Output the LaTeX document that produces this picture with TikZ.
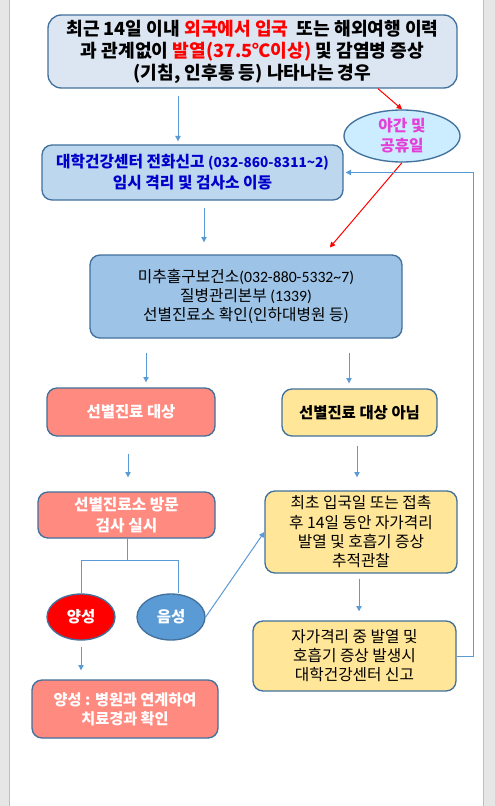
\documentclass[tikz,border=0pt]{standalone}
\usepackage{fontspec}
\setmainfont{Noto Sans CJK KR}
\newfontfamily\lat{Carlito}
\usetikzlibrary{arrows.meta,shapes.geometric}
\definecolor{bord}{HTML}{41719C}
\definecolor{arrc}{HTML}{5B9BD5}
\definecolor{topf}{HTML}{DCE6F2}
\definecolor{btwof}{HTML}{BDD7EE}
\definecolor{bthreef}{HTML}{9DC3E6}
\definecolor{nightf}{HTML}{CCECFF}
\definecolor{salm}{HTML}{FF8A80}
\definecolor{yel}{HTML}{FFE699}
\definecolor{negf}{HTML}{5B9BD5}
\definecolor{txtblue}{HTML}{0000CC}
\definecolor{mag}{HTML}{E43FD8}
\definecolor{grayside}{HTML}{E6E6E6}
\definecolor{grayline}{HTML}{BFBFBF}
\begin{document}
\begin{tikzpicture}[x=0.75pt,y=-0.75pt,
  rbox/.style={draw=bord, line width=1pt, rounded corners=7.5pt, align=center, inner sep=0pt},
  ell/.style={ellipse, draw=bord, line width=1pt, align=center, inner sep=0pt},
  arr/.style={draw=arrc, line width=0.75pt, -{Triangle[length=4pt,width=4pt]}},
  ln/.style={draw=arrc, line width=0.75pt},
  redarr/.style={draw=red, line width=0.75pt, -{Triangle[length=4pt,width=4pt]}},
  txt/.style={font=\fontsize{11.6}{14.5}\selectfont},
  btxt/.style={font=\fontsize{11.6}{14.5}\selectfont\bfseries},
]
\useasboundingbox (0,0) rectangle (495,806);
\fill[white] (0,0) rectangle (495,806);
\fill[grayside] (0,0) rectangle (9,806);
\draw[grayline, line width=0.75pt] (9.5,0) -- (9.5,806);
\fill[grayside] (483,0) rectangle (495,806);
\draw[grayline, line width=0.75pt] (483.5,0) -- (483.5,806);

% nodes
\node[rbox, fill=topf, rounded corners=10pt, minimum width=306.75pt, minimum height=54.75pt,
  font=\fontsize{13.6}{16.5}\selectfont\bfseries] (top) at (252.5,51.5)
  {최근 14일 이내 \textcolor{red}{외국에서 입국}~ 또는 해외여행 이력\\과 관계없이 \textcolor{red}{발열(37.5℃이상)} 및 감염병 증상\\(기침, 인후통 등) 나타나는 경우};
\node[ell, fill=nightf, minimum width=87pt, minimum height=39pt, text=mag,
  font=\fontsize{11.8}{15}\selectfont\bfseries] (night) at (402,136) {야간 및\\공휴일};
\node[rbox, fill=btwof, minimum width=225.75pt, minimum height=41.25pt, text=txtblue,
  font=\fontsize{11.8}{15.75}\selectfont\bfseries] (box2) at (192.5,172.5)
  {대학건강센터 전화신고 {\fontsize{10.2}{15.75}\selectfont(032-860-8311\textasciitilde 2)}\\임시 격리 및 검사소 이동};
\node[rbox, fill=bthreef, minimum width=234pt, minimum height=62.25pt,
  font=\fontsize{11.8}{14}\selectfont] (box3) at (246,296.5)
  {미추홀구보건소{\lat(032-880-5332\textasciitilde 7)}\\질병관리본부 {\lat(1339)}\\선별진료소 확인(인하대병원 등)};
\node[rbox, fill=salm, minimum width=126pt, minimum height=36pt, text=white, btxt] (target) at (131,412) {선별진료 대상};
\node[rbox, fill=yel, minimum width=116.25pt, minimum height=35.25pt, btxt] (nottarget) at (359.5,412.5) {선별진료 대상 아님};
\node[rbox, fill=salm, minimum width=132.75pt, minimum height=34.5pt, text=white,
  font=\fontsize{11.8}{15.5}\selectfont\bfseries] (visit) at (126.5,515) {선별진료소 방문\\검사 실시};
\node[rbox, fill=yel, minimum width=144pt, minimum height=61.5pt,
  font=\fontsize{11.8}{14.5}\selectfont] (track) at (361,532)
  {최초 입국일 또는 접촉\\후 14일 동안 자가격리\\발열 및 호흡기 증상\\추적관찰};
\node[ell, fill=red, minimum width=51pt, minimum height=34.5pt, text=white, btxt] (pos) at (81,617) {양성};
\node[ell, fill=negf, minimum width=51pt, minimum height=34.5pt, text=white, btxt] (neg) at (171,617) {음성};
\node[rbox, fill=salm, minimum width=139.5pt, minimum height=43.5pt, text=white,
  font=\fontsize{11.4}{14.5}\selectfont\bfseries] (posbox) at (125,709) {양성 : 병원과 연계하여\\치료경과 확인};
\node[rbox, fill=yel, minimum width=152.25pt, minimum height=52.5pt,
  font=\fontsize{11.8}{14.3}\selectfont] (report) at (354.5,656)
  {자가격리 중 발열 및\\호흡기 증상 발생시\\대학건강센터 신고};

% helper coordinates
\coordinate (c178) at (178,0);
\coordinate (c378) at (378,0);
\coordinate (c324) at (324,0);
\coordinate (c204) at (204,0);
\coordinate (c146) at (146,0);
\coordinate (c349) at (349,0);
\coordinate (c128) at (128,0);
\coordinate (c357) at (357,0);
\coordinate (c359) at (359,0);
\coordinate (br) at (127,560);
\coordinate (brr) at (178,0);
\coordinate (fb) at (473,0);

% connectors
\draw[arr, shorten <=5.25pt, shorten >=2.25pt] (top.south -| c178) -- (box2.north -| c178);
\draw[redarr] (top.south -| c378) -- (night.north);
\draw[redarr, shorten >=6.75pt] (night.south) -- (box3.north -| c324);
\draw[arr, shorten <=5.25pt, shorten >=9pt] (box2.south -| c204) -- (box3.north -| c204);
\draw[arr, shorten <=10.5pt, shorten >=3.75pt] (box3.south -| c146) -- (target.north -| c146);
\draw[arr, shorten <=10.5pt, shorten >=3.75pt] (box3.south -| c349) -- (nottarget.north -| c349);
\draw[arr, shorten <=12.75pt, shorten >=10.5pt] (target.south -| c128) -- (visit.north -| c128);
\draw[arr, shorten <=6.75pt, shorten >=9.75pt] (nottarget.south -| c357) -- (track.north -| c357);
\draw[ln] (visit.south -| br) -- (br);
\draw[ln] (pos.north) -- (pos.north |- br) -- (brr |- br) -- (brr |- neg.north);
\draw[arr] (neg.east) -- (track.west);
\draw[arr, shorten <=4.5pt, shorten >=6.75pt] (pos.south) -- (posbox.north -| pos.south);
\draw[arr, shorten <=3.75pt, shorten >=6.75pt] (track.south -| c359) -- (report.north -| c359);
\draw[arr, shorten >=1.5pt] (report.east) -- (report.east -| fb) |- (box2.east);
\end{tikzpicture}
\end{document}
